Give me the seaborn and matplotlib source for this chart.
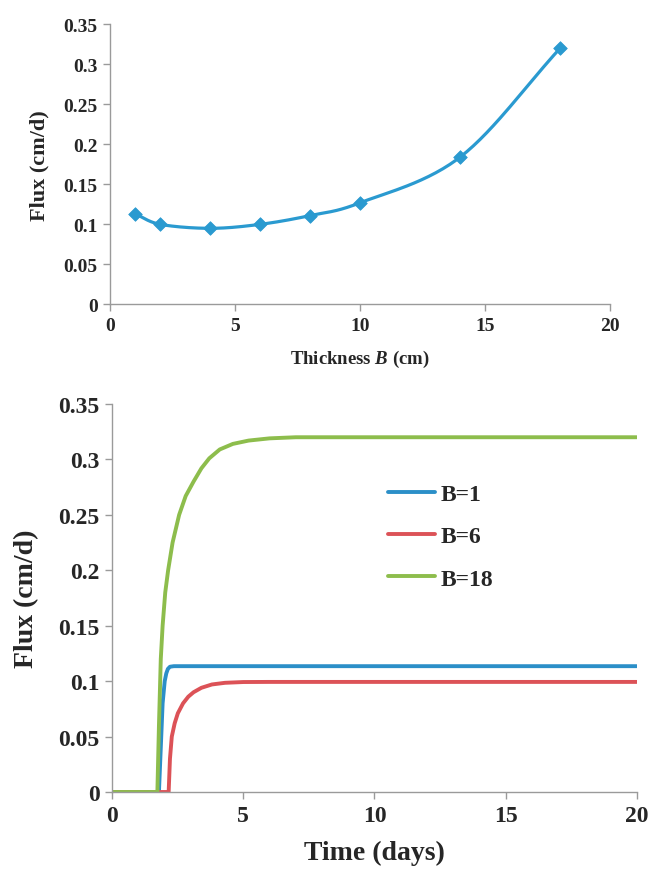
import numpy as np
import pandas as pd
import matplotlib
matplotlib.use("Agg")
import matplotlib.pyplot as plt
import seaborn as sns

# ---- data: top panel (flux vs thickness) ----
thickness = [1, 2, 4, 6, 8, 10, 14, 18]
flux_b = [0.113, 0.100, 0.095, 0.100, 0.111, 0.127, 0.184, 0.320]

# ---- data: bottom panel (flux vs time) ----
t_b1 = [0, 1.78, 1.85, 1.92, 2.0, 2.06, 2.12, 2.2, 2.35, 2.6, 20]
f_b1 = [0, 0, 0.04, 0.08, 0.100, 0.107, 0.111, 0.113, 0.1135, 0.1135, 0.1135]
t_b6 = [0, 2.15, 2.2, 2.27, 2.38, 2.5, 2.7, 2.9, 3.1, 3.4, 3.8, 4.3, 5.0, 6.0, 20]
f_b6 = [0, 0, 0.03, 0.05, 0.062, 0.071, 0.080, 0.086, 0.090, 0.094, 0.097, 0.0985, 0.0992, 0.0993, 0.0993]
t_b18 = [0, 1.72, 1.78, 1.85, 1.92, 2.02, 2.13, 2.3, 2.55, 2.8, 3.1, 3.4, 3.7, 4.1, 4.6, 5.2, 6.0, 7.0, 20]
f_b18 = [0, 0, 0.06, 0.12, 0.15, 0.18, 0.20, 0.225, 0.25, 0.267, 0.28, 0.292, 0.301, 0.309, 0.314, 0.317, 0.319, 0.320, 0.320]
labels = ["B=1", "B=6", "B=18"]
colors = ["#2b8fc8", "#dc5257", "#8dbd4c"]

sns.set_theme(style="white")
plt.rcParams["font.family"] = ["Liberation Serif", "DejaVu Serif"]
plt.rcParams["mathtext.fontset"] = "custom"
plt.rcParams["mathtext.it"] = "Liberation Serif:italic:bold"
plt.rcParams["mathtext.rm"] = "Liberation Serif:bold"

fig = plt.figure(figsize=(6.49, 8.70), dpi=100)
ax1 = fig.add_axes([0.170, 0.649, 0.770, 0.322])
ax2 = fig.add_axes([0.173, 0.0885, 0.808, 0.446])


def catmull_rom(x, y, n=30):
    x = np.asarray(x, float); y = np.asarray(y, float)
    P = np.column_stack([x, y])
    P = np.vstack([2 * P[0] - P[1], P, 2 * P[-1] - P[-2]])
    out = []
    for i in range(1, len(P) - 2):
        p0, p1, p2, p3 = P[i - 1], P[i], P[i + 1], P[i + 2]
        s = np.linspace(0, 1, n, endpoint=False)[:, None]
        pts = 0.5 * ((2 * p1) + (-p0 + p2) * s + (2 * p0 - 5 * p1 + 4 * p2 - p3) * s**2
                     + (-p0 + 3 * p1 - 3 * p2 + p3) * s**3)
        out.append(pts)
    out.append(P[-2][None, :])
    out = np.vstack(out)
    return out[:, 0], out[:, 1]

# top panel
sx, sy = catmull_rom(thickness, flux_b)
curve = pd.DataFrame({"x": sx, "y": sy})
pts = pd.DataFrame({"x": thickness, "y": flux_b})
sns.lineplot(data=curve, x="x", y="y", ax=ax1, color="#2a9ad0", lw=2.3, sort=False)
sns.scatterplot(data=pts, x="x", y="y", ax=ax1, color="#2a9ad0", marker="D", s=48,
                edgecolor="#2a9ad0", zorder=3)
ax1.set_xlim(0, 20)
ax1.set_ylim(0, 0.35)
ax1.set_xticks([0, 5, 10, 15, 20])
ax1.set_yticks([0, 0.05, 0.1, 0.15, 0.2, 0.25, 0.3, 0.35])
ax1.set_yticklabels(["0", "0.05", "0.1", "0.15", "0.2", "0.25", "0.3", "0.35"])
ax1.set_xlabel(r"Thickness $\mathit{B}$ (cm)", fontsize=13.5, fontweight="bold", labelpad=10)
ax1.set_ylabel("Flux (cm/d)", fontsize=16, fontweight="bold", labelpad=10)

# bottom panel
for t, f, lab, c in zip([t_b1, t_b6, t_b18], [f_b1, f_b6, f_b18], labels, colors):
    d = pd.DataFrame({"t": t, "f": f})
    sns.lineplot(data=d, x="t", y="f", ax=ax2, color=c, lw=2.8, label=lab, sort=False)
ax2.set_xlim(0, 20)
ax2.set_ylim(0, 0.35)
ax2.set_xticks([0, 5, 10, 15, 20])
ax2.set_yticks([0, 0.05, 0.1, 0.15, 0.2, 0.25, 0.3, 0.35])
ax2.set_yticklabels(["0", "0.05", "0.1", "0.15", "0.2", "0.25", "0.3", "0.35"])
ax2.set_xlabel("Time (days)", fontsize=20, fontweight="bold", labelpad=10)
ax2.set_ylabel("Flux (cm/d)", fontsize=20, fontweight="bold", labelpad=14)
leg = ax2.legend(loc="upper left", bbox_to_anchor=(0.485, 0.85), frameon=False,
                 fontsize=17, handlelength=2.0, handletextpad=0.25, labelspacing=0.88)
for txt in leg.get_texts():
    txt.set_fontweight("bold")

for ax, fs in [(ax1, 14), (ax2, 17)]:
    for side in ["top", "right"]:
        ax.spines[side].set_visible(False)
    for side in ["left", "bottom"]:
        ax.spines[side].set_color("#9a9a9a")
        ax.spines[side].set_linewidth(1.0)
    ax.tick_params(axis="both", which="major", direction="out", length=5, width=1,
                   color="#9a9a9a", labelsize=fs, bottom=True, left=True, pad=4)
    for lbl in ax.get_xticklabels() + ax.get_yticklabels():
        lbl.set_fontweight("bold")

fig.savefig("out.png", dpi=100)
